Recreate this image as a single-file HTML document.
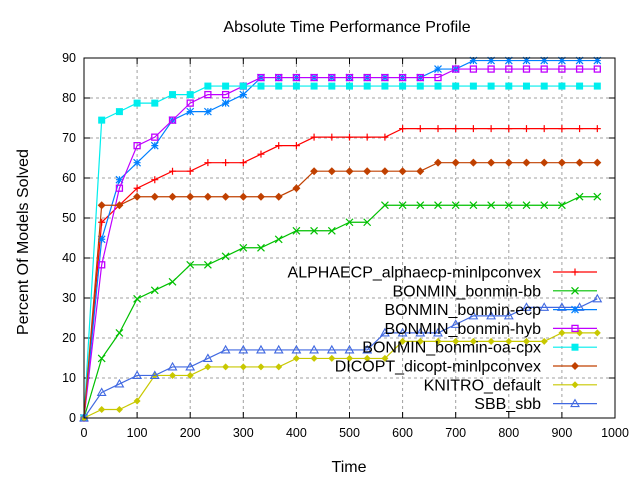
<!DOCTYPE html>
<html><head><meta charset="utf-8"><style>
body{margin:0;background:#fff}
svg{display:block;font-family:"Liberation Sans",sans-serif}
</style></head><body>
<svg id="chart" width="640" height="480" xmlns="http://www.w3.org/2000/svg">
<rect width="640" height="480" fill="#fff"/>
<text x="347" y="32" text-anchor="middle" font-size="16">Absolute Time Performance Profile</text>
<text transform="translate(28,242) rotate(-90)" text-anchor="middle" font-size="16">Percent Of Models Solved</text>
<text x="349" y="472" text-anchor="middle" font-size="16">Time</text>
<g id="grid"></g><g id="axes"></g><g id="series"></g><g id="legend"></g>
<rect x="84" y="58" width="531" height="360" fill="none" stroke="#000" stroke-width="1"/>
</svg>
<script>
const xTicks=[0,100,200,300,400,500,600,700,800,900,1000];
const yTicks=[0,10,20,30,40,50,60,70,80,90];
const totalModels=47;
const times=[0,33.3,66.7,100,133.3,166.7,200,233.3,266.7,300,333.3,366.7,400,433.3,466.7,500,533.3,566.7,600,633.3,666.7,700,733.3,766.7,800,833.3,866.7,900,933.3,966.7];
const names=["ALPHAECP_alphaecp-minlpconvex","BONMIN_bonmin-bb","BONMIN_bonmin-ecp","BONMIN_bonmin-hyb","BONMIN_bonmin-oa-cpx","DICOPT_dicopt-minlpconvex","KNITRO_default","SBB_sbb"];
const alphaecp=[0,23,25,27,28,29,29,30,30,30,31,32,32,33,33,33,33,33,34,34,34,34,34,34,34,34,34,34,34,34];
const bonminBb=[0,7,10,14,15,16,18,18,19,20,20,21,22,22,22,23,23,25,25,25,25,25,25,25,25,25,25,25,26,26];
const bonminEcp=[0,21,28,30,32,35,36,36,37,38,40,40,40,40,40,40,40,40,40,40,41,41,42,42,42,42,42,42,42,42];
const bonminHyb=[0,18,27,32,33,35,37,38,38,39,40,40,40,40,40,40,40,40,40,40,40,41,41,41,41,41,41,41,41,41];
const bonminOa=[0,35,36,37,37,38,38,39,39,39,39,39,39,39,39,39,39,39,39,39,39,39,39,39,39,39,39,39,39,39];
const dicopt=[0,25,25,26,26,26,26,26,26,26,26,26,27,29,29,29,29,29,29,29,30,30,30,30,30,30,30,30,30,30];
const knitro=[0,1,1,2,5,5,5,6,6,6,6,6,7,7,7,7,7,7,9,9,9,9,9,9,9,9,9,10,10,10];
const sbb=[0,3,4,5,5,6,6,7,8,8,8,8,8,8,8,8,8,10,10,10,10,11,12,12,12,13,13,13,13,14];
const seriesData=[alphaecp,bonminBb,bonminEcp,bonminHyb,bonminOa,dicopt,knitro,sbb];
const colors=["#ff0000","#00c000","#0080ff","#c000ff","#00eeee","#c04000","#c8c800","#4169e1"];
const markers=["plus","cross","star","box","fbox","diamond","dot","tri"];
const X0=84,X1=615,Y0=418,Y1=58;
const xs=v=>X0+(v-0)/1000*(X1-X0);
const ys=v=>Y0-(v/90)*(Y0-Y1);
const NS="http://www.w3.org/2000/svg";
function mk(tag,attrs,parent){const e=document.createElementNS(NS,tag);for(const k in attrs)e.setAttribute(k,attrs[k]);parent.appendChild(e);return e;}
const grid=document.getElementById('grid'),axes=document.getElementById('axes'),ser=document.getElementById('series'),leg=document.getElementById('legend');
xTicks.forEach(t=>{const x=xs(t);
 if(t>0&&t<1000){const g=mk('line',{x1:x,x2:x,y1:Y1,y2:Y0,stroke:'#a0a0a0','stroke-dasharray':'3,3'},grid);
 
 }
 mk('line',{x1:x,x2:x,y1:Y0,y2:Y0-6,stroke:'#000'},axes);mk('line',{x1:x,x2:x,y1:Y1,y2:Y1+6,stroke:'#000'},axes);
 const l=mk('text',{x:x,y:Y0+19,'text-anchor':'middle','font-size':'12.5'},axes);l.textContent=t;
 
 });
yTicks.forEach(t=>{const y=ys(t);
 if(t>0&&t<90){const g=mk('line',{x1:X0,x2:X1,y1:y,y2:y,stroke:'#a0a0a0','stroke-dasharray':'3,3'},grid);
 
 }
 mk('line',{x1:X0,x2:X0+6,y1:y,y2:y,stroke:'#000'},axes);mk('line',{x1:X1,x2:X1-6,y1:y,y2:y,stroke:'#000'},axes);
 const l=mk('text',{x:X0-8,y:y+4,'text-anchor':'end','font-size':'12.5'},axes);l.textContent=t;
 
 });
function marker(type,x,y,c,p){
 const s=3.5;
 if(type==='plus'){mk('path',{d:`M${x-s} ${y}h${2*s}M${x} ${y-s}v${2*s}`,stroke:c,'stroke-width':1.2},p);}
 else if(type==='cross'){mk('path',{d:`M${x-s} ${y-s}l${2*s} ${2*s}M${x-s} ${y+s}l${2*s} ${-2*s}`,stroke:c,'stroke-width':1.2},p);}
 else if(type==='star'){mk('path',{d:`M${x-s} ${y}h${2*s}M${x} ${y-s}v${2*s}M${x-s} ${y-s}l${2*s} ${2*s}M${x-s} ${y+s}l${2*s} ${-2*s}`,stroke:c,'stroke-width':1.2},p);}
 else if(type==='box'){mk('rect',{x:x-3,y:y-3,width:6,height:6,fill:'none',stroke:c,'stroke-width':1.3},p);}
 else if(type==='fbox'){mk('rect',{x:x-3.5,y:y-3.5,width:7,height:7,fill:c},p);}
 else if(type==='diamond'){mk('path',{d:`M${x} ${y-4}L${x+4} ${y}L${x} ${y+4}L${x-4} ${y}Z`,fill:c},p);}
 else if(type==='dot'){mk('path',{d:`M${x} ${y-3.5}L${x+3.5} ${y}L${x} ${y+3.5}L${x-3.5} ${y}Z`,fill:c},p);}
 else if(type==='tri'){mk('path',{d:`M${x} ${y-4}L${x+4} ${y+3}L${x-4} ${y+3}Z`,fill:'none',stroke:c,'stroke-width':1.1},p);}
}
seriesData.forEach((vals,i)=>{
 const g=mk('g',{},ser);
 
 
 const pts=vals.map((v,k)=>xs(times[k])+','+ys(v*100/totalModels)).join(' ');
 mk('polyline',{points:pts,fill:'none',stroke:colors[i],'stroke-width':1.2},g);
 vals.forEach((v,k)=>marker(markers[i],xs(times[k]),ys(v*100/totalModels),colors[i],g));
 const ly=272+i*18.8;
 const lg=mk('g',{},leg);
 
 
 const t=mk('text',{x:541,y:ly+5.5,'text-anchor':'end','font-size':'16'},lg);t.textContent=names[i];
 mk('line',{x1:553,x2:597,y1:ly,y2:ly,stroke:colors[i],'stroke-width':1.2},lg);
 marker(markers[i],575,ly,colors[i],lg);
});
</script>
</body></html>
